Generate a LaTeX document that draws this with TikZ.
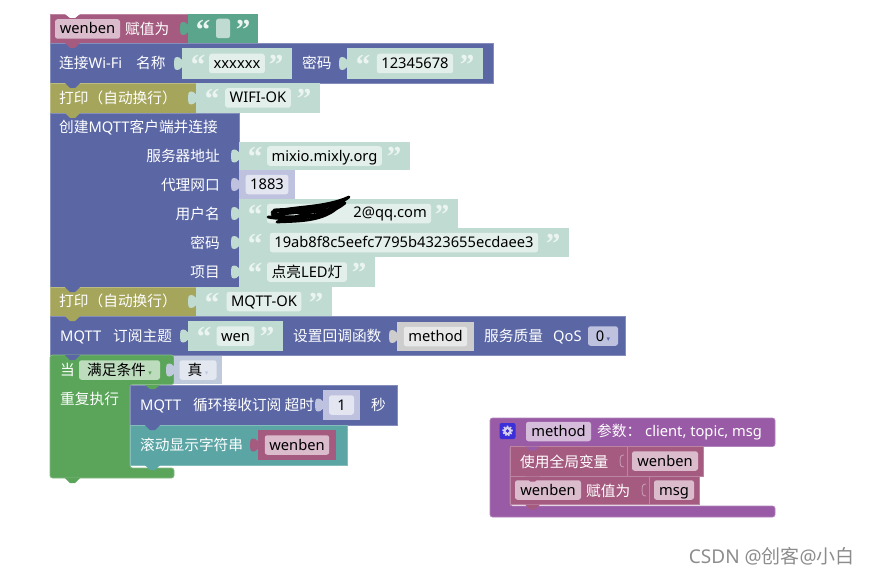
\documentclass[tikz,border=0pt]{standalone}
\usepackage{fontspec}
\setmainfont{Noto Sans}
\newfontfamily\cjk{Noto Sans CJK SC}
\newfontfamily\quotefont{Liberation Serif}
\newfontfamily\arrowfont{DejaVu Sans}
\usetikzlibrary{positioning}
\definecolor{magentablk}{HTML}{A55B80}
\definecolor{blueblk}{HTML}{5B67A5}
\definecolor{oliveblk}{HTML}{A5A55B}
\definecolor{greenblk}{HTML}{5BA55B}
\definecolor{tealblk}{HTML}{5BA5A5}
\definecolor{purpleblk}{HTML}{995BA5}
\definecolor{strblk}{HTML}{C0DCD2}
\definecolor{strfield}{HTML}{E3EFEA}
\definecolor{strgreen}{HTML}{5BA58C}
\definecolor{numblk}{HTML}{BEC2DE}
\definecolor{numfield}{HTML}{E3E5F0}
\definecolor{varfield}{HTML}{DBBCCC}
\definecolor{cbgrey}{HTML}{CDCDCD}
\definecolor{cbfield}{HTML}{E8E8E8}
\definecolor{ddgreen}{HTML}{BDDBBD}
\definecolor{condgrey}{HTML}{BFCBDD}
\definecolor{condfield}{HTML}{E3E8F0}
\definecolor{gearblue}{HTML}{3A2FD8}
\definecolor{gearlight}{HTML}{D6D0F0}
\definecolor{methodfield}{HTML}{D6BCDB}
\tikzstyle{stmt}   = [rectangle, anchor=north west, inner sep=0pt, outer sep=0pt]
\tikzstyle{magentastmt} = [stmt, fill=magentablk, draw=magentablk!75!white, line width=0.7pt]
\tikzstyle{bluestmt}    = [stmt, fill=blueblk, draw=blueblk!75!white, line width=0.7pt]
\tikzstyle{olivestmt}   = [stmt, fill=oliveblk, draw=oliveblk!75!white, line width=0.7pt]
\tikzstyle{tealstmt}    = [stmt, fill=tealblk, draw=tealblk!75!white, line width=0.7pt]
\tikzstyle{label}  = [anchor=west, inner sep=0pt, text=white, font=\cjk\fontsize{14.7}{15}\selectfont, text height=13pt, text depth=2pt]
\tikzstyle{field}  = [rectangle, rounded corners=2.5pt, inner xsep=4.5pt, inner ysep=0pt, text=black,
                      font=\fontsize{14.7}{15}\selectfont, text height=12pt, text depth=2pt, minimum height=19.5pt, minimum width=14pt]
\tikzstyle{quote}  = [inner sep=0pt, text=strfield!70!white, font=\quotefont\bfseries\fontsize{29}{29}\selectfont]
\newcommand{\ddmark}[1]{\,\textcolor{#1}{\arrowfont\fontsize{7}{7}\selectfont▾}}

% tab of an input, sticking out to the left
\newcommand{\blocktab}[3]{
  \fill[#3] ({#1+1},{#2-3}) .. controls ({#1-1},{#2-3}) and ({#1-1},{#2-6.5}) .. ({#1-5},{#2-6.5}) .. controls ({#1-8},{#2-6.5}) and ({#1-8},{#2-3}) .. ({#1-8},{#2})
    .. controls ({#1-8},{#2+3}) and ({#1-8},{#2+6.5}) .. ({#1-5},{#2+6.5}) .. controls ({#1-1},{#2+6.5}) and ({#1-1},{#2+3}) .. ({#1+1},{#2+3}) -- cycle;
}
% same tab, outline only
\newcommand{\linetab}[3]{
  \draw[#3, line width=0.8pt] ({#1},{#2-6}) .. controls ({#1-4},{#2-6}) and ({#1-4},{#2-3}) .. ({#1-4},{#2}) .. controls ({#1-4},{#2+3}) and ({#1-4},{#2+6}) .. ({#1},{#2+6});
}
% notch of a statement block
\newcommand{\blocknotch}[3]{
  \fill[#3] (#1+15,#2) -- (#1+20,#2+5) -- (#1+25,#2+5) -- (#1+30,#2) -- cycle;
}
% name, left, top, right, bottom, text
\newcommand{\strinput}[6]{
  \node (#1) [stmt, fill=strblk, minimum width=#4-#2, minimum height=#5-#3] at (#2,#3) {};
  \blocktab{#2}{(#3+#5)/2}{strblk}
  \node (#1f) [field, fill=strfield] at ({(#2+#4)/2},{(#3+#5)/2}) {#6};
  \node (#1l) [quote] at ({#2+16},{(#3+#5)/2+1}) {“};
  \node (#1r) [quote] at ({#4-16},{(#3+#5)/2+1}) {”};
}
% name, left, top, right, bottom, fill, field colour, text
\newcommand{\valinput}[8]{
  \node (#1) [stmt, fill=#6, minimum width=#4-#2, minimum height=#5-#3] at (#2,#3) {};
  \blocktab{#2}{(#3+#5)/2}{#6}
  \node (#1f) [field, fill=#7] at ({(#2+#4)/2},{(#3+#5)/2}) {#8};
}

\begin{document}
\begin{tikzpicture}[x=1pt, y=-1pt]
  \useasboundingbox (0,0) rectangle (870,575);

  % wenben = ""
  \node (setwen) [magentastmt, minimum width=138, minimum height=29] at (50,14) {};
  \node (setwenvar) [field, fill=varfield, minimum width=65] at (87.5,29) {wenben};
  \node (setwenlbl) [label] at (125,29) {赋值为};
  \valinput{emptyin}{188}{14}{258}{43}{strgreen}{strblk}{}
  \node (emptyl) [quote] at (203,29.5) {“};
  \node (emptyr) [quote] at (243,29.5) {”};

  % wifi
  \node (wifi) [bluestmt, minimum width=443, minimum height=40] at (50,43) {};
  \node (wifilbl) [label] at (59,63) {连接{\rmfamily Wi-Fi}};
  \node (wifiname) [label] at (136,63) {名称};
  \strinput{ssid}{182}{48}{292}{79}{xxxxxx}
  \node (wifipwd) [label] at (302,63) {密码};
  \strinput{ssidpwd}{347}{48}{483}{79}{12345678}

  % print
  \node (printa) [olivestmt, minimum width=146, minimum height=30] at (50,83) {};
  \node (printalbl) [label] at (59,98) {打印（自动换行）};
  \strinput{printastr}{196}{83}{320}{113}{WIFI-OK}

  % mqtt client
  \node (client) [bluestmt, minimum width=189, minimum height=174] at (50,113) {};
  \node (clientlbl) [label] at (59,127) {创建{\rmfamily MQTT}客户端并连接};
  \node (hostlbl) [label, anchor=east] at (220,156) {服务器地址};
  \strinput{host}{239}{142}{410}{170}{mixio.mixly.org}
  \node (portlbl) [label, anchor=east] at (220,185) {代理网口};
  \valinput{port}{239}{170}{295}{199}{numblk}{numfield}{1883}
  \node (userlbl) [label, anchor=east] at (220,214) {用户名};
  \node (user) [stmt, fill=strblk, minimum width=219, minimum height=29] at (239,199) {};
  \blocktab{239}{213.5}{strblk}
  \node (userf) [field, fill=strfield, minimum width=164] at (349,213.5) {};
  \node (usertxt) [inner sep=0pt, anchor=east, text=black, font=\fontsize{14.7}{15}\selectfont] at (427,214) {2@qq.com};
  \node (userl) [quote] at (255,214.5) {“};
  \node (userr) [quote] at (442,214.5) {”};
  \node (keylbl) [label, anchor=east] at (220,243) {密码};
  \strinput{key}{239}{228}{569}{257}{19ab8f8c5eefc7795b4323655ecdaee3}
  \node (projlbl) [label, anchor=east] at (220,272) {项目};
  \strinput{proj}{239}{257}{375}{287}{{\cjk 点亮}LED{\cjk 灯}}

  % scribble over the user name
  \draw[black, line width=2.8pt, line cap=round, line join=round]
    (272,212) .. controls (295,206) and (325,208) .. (349,197)
    .. controls (330,212) and (300,208) .. (274,210)
    .. controls (300,214) and (325,214) .. (345,203)
    .. controls (325,220) and (290,216) .. (268,217)
    .. controls (285,221) and (320,217) .. (336,209)
    .. controls (320,222) and (295,221) .. (277,222)
    .. controls (295,216) and (320,212) .. (330,204)
    .. controls (310,212) and (290,214) .. (272,214);

  % second print
  \node (printb) [olivestmt, minimum width=146, minimum height=29] at (50,287) {};
  \node (printblbl) [label] at (59,301) {打印（自动换行）};
  \strinput{printbstr}{196}{287}{332}{316}{MQTT-OK}

  % subscribe
  \node (sub) [bluestmt, minimum width=575, minimum height=39] at (50,316) {};
  \node (sublbl) [label] at (60,336) {\rmfamily MQTT};
  \node (subtopic) [label] at (113,336) {订阅主题};
  \strinput{topic}{188}{321}{283}{351}{wen}
  \node (subcb) [label] at (293,336) {设置回调函数};
  \valinput{cb}{397}{322}{474}{351}{cbgrey}{cbfield}{method}
  \node (subqos) [label] at (484,336) {服务质量};
  \node (subqosb) [label] at (553,336) {\rmfamily QoS};
  \node (qos) [field, fill=numblk, minimum width=30, inner xsep=0pt] at (603,336) {0\ddmark{blueblk}};

  % while loop
  \path[fill=greenblk, draw=greenblk!75!white, line width=0.7pt, rounded corners=2.5pt]
    (50,355) -- (174,355) -- (174,384.5) -- (130,384.5) -- (130,468) -- (174,468) -- (174,478) -- (50,478) -- cycle;
  \node (whilelbl) [label] at (60,370) {当};
  \node (whiledd) [field, fill=ddgreen, minimum width=81] at (119.5,370) {{\cjk 满足条件}\ddmark{greenblk}};
  \valinput{cond}{174}{356}{222}{384}{condgrey}{condfield}{\makebox[28pt]{{\cjk 真}\ddmark{condgrey}}}
  \node (dolbl) [label] at (60,399) {重复执行};

  \node (loop) [bluestmt, minimum width=267, minimum height=40] at (130,385) {};
  \node (looplbl) [label] at (140,405) {\rmfamily MQTT};
  \node (looptxt) [label] at (193,405) {循环接收订阅 超时};
  \valinput{timeout}{323}{390}{360}{420}{numblk}{numfield}{\makebox[16pt]{1}}
  \node (loopsec) [label] at (371,405) {秒};

  \node (scroll) [tealstmt, minimum width=217, minimum height=40] at (130,425) {};
  \node (scrolllbl) [label] at (140,445) {滚动显示字符串};
  \valinput{scrollvar}{258}{430}{336}{460}{magentablk}{varfield}{wenben}

  % method block
  \path[fill=purpleblk, draw=purpleblk!75!white, line width=0.7pt, rounded corners=2.5pt]
    (490,418) -- (775,418) -- (775,446.5) -- (510,446.5) -- (510,506) -- (775,506) -- (775,517) -- (490,517) -- cycle;
  \node (gear) [rectangle, rounded corners=2pt, fill=gearblue, inner sep=0pt, minimum width=16, minimum height=16] at (507.5,431) {};
  \fill[gearlight] (gear.center) circle (4.2pt);
  \draw[gearlight, line width=1.6pt, dash pattern=on 1.6pt off 1.5pt] (gear.center) circle (4.6pt);
  \fill[gearblue] (gear.center) circle (1.8pt);
  \node (methodname) [field, fill=methodfield, minimum width=65] at (558.5,431.5) {method};
  \node (methodarg) [label] at (597,431) {参数：};
  \node (methodargs) [label] at (645,431) {\rmfamily client, topic, msg};

  \node (globalb) [magentastmt, minimum width=193, minimum height=30] at (510,446.5) {};
  \draw[magentablk!75!white, line width=0.7pt] (627,446.5) -- (627,476.5);
  \node (globallbl) [label] at (520,462) {使用全局变量};
  \linetab{624}{461}{magentablk!60!white}
  \node (globalvar) [field, fill=varfield, minimum width=66] at (665,461) {wenben};

  \node (assign) [magentastmt, minimum width=189, minimum height=28] at (510,476.5) {};
  \draw[magentablk!75!white, line width=0.7pt] (649,476.5) -- (649,504.5);
  \node (assignvar) [field, fill=varfield, minimum width=66] at (548,490) {wenben};
  \node (assignlbl) [label] at (586,491) {赋值为};
  \linetab{646}{490}{magentablk!60!white}
  \node (assignmsg) [field, fill=varfield, minimum width=40] at (674,490) {msg};

  % notches
  \blocknotch{50}{43}{magentablk}
  \blocknotch{50}{83}{blueblk}
  \blocknotch{50}{113}{oliveblk}
  \blocknotch{50}{287}{blueblk}
  \blocknotch{50}{316}{oliveblk}
  \blocknotch{50}{355}{blueblk}
  \blocknotch{130}{425}{blueblk}
  \blocknotch{130}{465}{tealblk}
  \blocknotch{50}{478}{greenblk}
  \blocknotch{510}{476.5}{magentablk}
  \blocknotch{510}{504.5}{magentablk}
  \fill[white] (65,14) -- (70,18) -- (75,18) -- (80,14) -- cycle;
  \fill[purpleblk] (525,446.5) -- (530,450.5) -- (535,450.5) -- (540,446.5) -- cycle;
  \fill[greenblk] (145,385) -- (150,389) -- (155,389) -- (160,385) -- cycle;

  \node (mark) [inner sep=0pt, anchor=east, text=black!45, font=\fontsize{19}{19}\selectfont] at (855,556) {CSDN @{\cjk 创客}@{\cjk 小白}};
\end{tikzpicture}
\end{document}
